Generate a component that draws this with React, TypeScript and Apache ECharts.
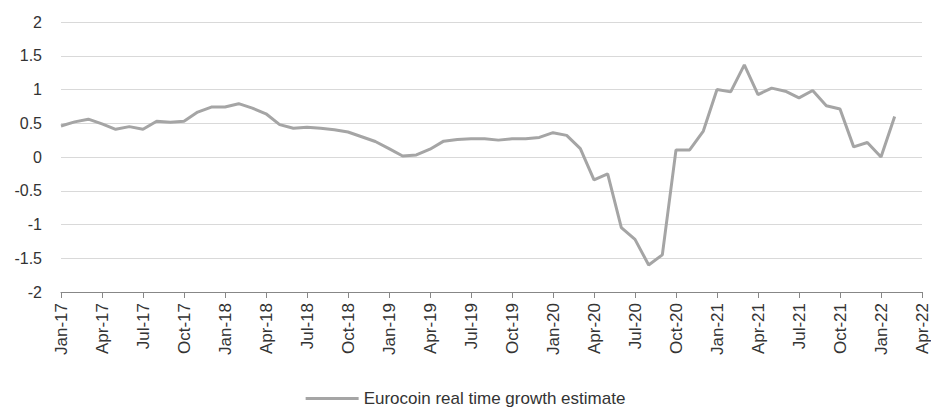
import React, { useEffect, useRef } from "react";
import * as echarts from "echarts";

const monthNames = ["Jan", "Feb", "Mar", "Apr", "May", "Jun", "Jul", "Aug", "Sep", "Oct", "Nov", "Dec"];
const years = ["17", "18", "19", "20", "21", "22"];
// Jan-17 .. Apr-22
const categories: string[] = [];
years.forEach((y) => monthNames.forEach((m) => categories.push(`${m}-${y}`)));
categories.splice(categories.indexOf("Apr-22") + 1);

const seriesName = "Eurocoin real time growth estimate";
const eurocoin = [
  0.46, 0.52, 0.56, 0.49, 0.41, 0.45, 0.41, 0.53, 0.515, 0.53, 0.665, 0.74,
  0.74, 0.79, 0.725, 0.64, 0.48, 0.425, 0.44, 0.425, 0.405, 0.37, 0.3, 0.23,
  0.125, 0.015, 0.03, 0.115, 0.235, 0.26, 0.27, 0.27, 0.25, 0.27, 0.27, 0.29,
  0.36, 0.32, 0.125, -0.34, -0.25, -1.045, -1.22, -1.6, -1.45, 0.105, 0.105, 0.385,
  1.0, 0.965, 1.365, 0.925, 1.02, 0.975, 0.875, 0.985, 0.76, 0.71, 0.15, 0.215,
  0.0, 0.6,
];

const yMin = -2;
const yMax = 2;
const yStep = 0.5;

export default function App() {
  const ref = useRef<HTMLDivElement>(null);
  useEffect(() => {
    if (!ref.current) return;
    const chart = echarts.init(ref.current, undefined, { renderer: "svg" });
    const font = "'Liberation Sans', Arial, sans-serif";
    chart.setOption({
      animation: false,
      textStyle: { fontFamily: font },
      grid: { left: 61, right: 9, top: 22, bottom: 115, containLabel: false },
      legend: {
        data: [seriesName],
        top: 385,
        left: "center",
        itemWidth: 53,
        itemHeight: 18,
        itemGap: 10,
        icon: "path://M0,0 L53,0 L53,3 L0,3 Z",
        textStyle: { fontSize: 17, color: "#333", fontFamily: font },
      },
      xAxis: {
        type: "category",
        data: categories,
        boundaryGap: false,
        axisLine: { onZero: false, lineStyle: { color: "#878787", width: 1 } },
        axisTick: { show: true, interval: 2, length: 6, lineStyle: { color: "#878787" } },
        axisLabel: {
          interval: 2,
          rotate: 90,
          margin: 11,
          fontSize: 17,
          color: "#333",
          fontFamily: font,
        },
        splitLine: { show: false },
      },
      yAxis: {
        type: "value",
        min: yMin,
        max: yMax,
        interval: yStep,
        axisLine: { show: false },
        axisTick: { show: false },
        axisLabel: { fontSize: 16, color: "#333", margin: 19, fontFamily: font },
        splitLine: { lineStyle: { color: "#d9d9d9", width: 1 } },
      },
      series: [
        {
          name: seriesName,
          type: "line",
          data: eurocoin,
          symbol: "none",
          lineStyle: { color: "#a5a5a5", width: 3 },
          itemStyle: { color: "#a5a5a5" },
        },
      ],
    });
    return () => chart.dispose();
  }, []);
  return (
    <div
      ref={ref}
      style={{ position: "fixed", left: 0, top: 0, width: 931, height: 407, background: "#fff" }}
    />
  );
}
